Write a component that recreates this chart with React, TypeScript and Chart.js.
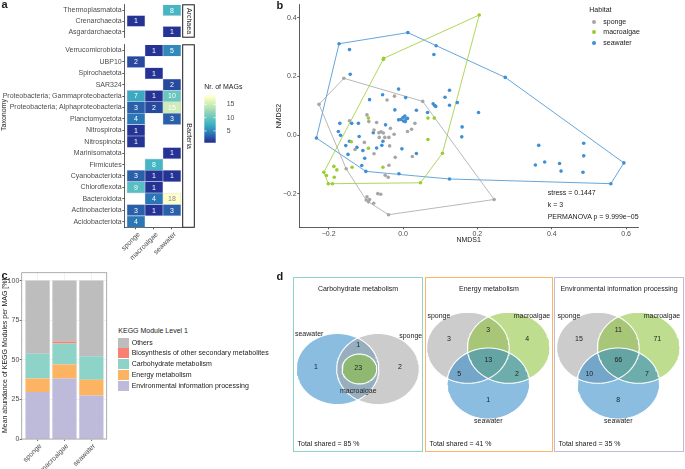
import React, { useEffect, useRef } from 'react';
import { Chart, registerables } from 'chart.js';

Chart.register(...registerables);

const FONT = "'Liberation Sans', Arial, Helvetica, sans-serif";
Chart.defaults.font.family = FONT;
Chart.defaults.font.size = 7;
Chart.defaults.color = '#4d4d4d';

// ---------------- panel a : MAG taxonomy heatmap ----------------
const habitats = ['sponge', 'macroalgae', 'seawater'];
const domains = ['Archaea', 'Bacteria'];
const archaeaTaxa = ['Thermoplasmatota', 'Crenarchaeota', 'Asgardarchaeota'];
const archaeaSponge = [null, 1, null];
const archaeaMacroalgae = [null, null, null];
const archaeaSeawater = [8, null, 1];
const bacteriaTaxa = [
  'Verrucomicrobiota', 'UBP10', 'Spirochaetota', 'SAR324',
  'Proteobacteria; Gammaproteobacteria', 'Proteobacteria; Alphaproteobacteria',
  'Planctomycetota', 'Nitrospirota', 'Nitrospinota', 'Marinisomatota', 'Firmicutes',
  'Cyanobacteriota', 'Chloroflexota', 'Bacteroidota', 'Actinobacteriota', 'Acidobacteriota',
];
const bacteriaSponge = [null, 2, null, null, 7, 3, 4, 1, 1, null, null, 3, 9, null, 3, 4];
const bacteriaMacroalgae = [1, null, 1, null, 1, 2, null, null, null, null, 8, 1, 1, 4, 1, null];
const bacteriaSeawater = [5, null, null, 2, 10, 15, 3, null, null, 1, null, 1, null, 18, 3, null];
const magLegendTicks = [5, 10, 15];
const magLimits = [1, 18];

// ---------------- panel b : NMDS ----------------
const spongeNMDS: number[][] = [
  [-0.159, 0.194], [-0.226, 0.105], [-0.153, -0.115], [-0.039, -0.272], [-0.144, 0.049],
  [-0.097, 0.069], [-0.104, -0.025], [-0.129, -0.049], [-0.092, 0.046], [-0.071, 0.043],
  [-0.078, 0.017], [-0.065, 0.008], [-0.059, 0.011], [-0.053, 0.007], [-0.064, -0.008],
  [-0.049, -0.008], [-0.038, -0.008], [-0.034, 0.023], [-0.024, 0.003], [-0.036, -0.037],
  [-0.078, -0.064], [-0.021, -0.076], [-0.038, -0.103], [-0.048, -0.137], [-0.040, -0.144],
  [-0.097, -0.211], [-0.099, -0.222], [-0.093, -0.228], [-0.090, -0.220], [-0.079, -0.233],
  [-0.068, -0.200], [-0.060, -0.202], [-0.043, 0.120], [-0.023, 0.133], [0.012, 0.012],
  [0.023, 0.020], [0.025, -0.073], [0.053, 0.115], [0.245, -0.220], [0.032, 0.040],
];
const macroalgaeNMDS: number[][] = [
  [-0.213, -0.127], [-0.206, -0.138], [-0.201, -0.166], [-0.190, -0.166], [-0.186, -0.107],
  [-0.178, -0.119], [-0.185, -0.144], [-0.137, -0.110], [-0.139, -0.023], [-0.093, -0.045],
  [-0.093, 0.058], [-0.054, -0.110], [-0.052, 0.262], [-0.053, 0.258], [0.047, -0.163],
  [0.067, 0.058], [0.084, 0.058], [0.067, -0.015], [0.106, -0.062], [0.205, 0.410],
];
const seawaterNMDS: number[][] = [
  [-0.172, 0.312], [-0.144, 0.292], [-0.142, 0.208], [-0.233, -0.010], [-0.170, 0.040],
  [-0.174, 0.012], [-0.168, -0.001], [-0.138, 0.040], [-0.120, 0.040], [-0.154, -0.036],
  [-0.144, -0.021], [-0.148, -0.066], [-0.124, -0.042], [-0.118, -0.005], [-0.108, -0.053],
  [-0.103, -0.079], [-0.111, -0.104], [-0.100, -0.124], [-0.090, 0.121], [-0.080, 0.008],
  [-0.071, -0.044], [-0.057, -0.035], [-0.054, -0.021], [-0.047, 0.035], [-0.055, 0.138],
  [-0.012, 0.157], [-0.022, 0.086], [-0.003, -0.047], [-0.011, -0.132], [0.007, 0.128],
  [0.013, 0.350], [0.089, 0.305], [0.083, 0.275], [0.275, 0.197], [0.594, -0.095],
  [0.559, -0.166], [0.125, -0.150], [-0.012, 0.052], [-0.006, 0.053], [0.000, 0.060],
  [0.005, 0.065], [0.008, 0.055], [0.012, 0.057], [0.001, 0.048], [0.006, 0.046],
  [0.036, 0.085], [0.066, 0.077], [0.081, 0.107], [0.085, 0.101], [0.088, 0.098],
  [0.113, 0.129], [0.125, 0.153], [0.125, 0.102], [0.146, 0.111], [0.203, 0.077],
  [0.159, 0.028], [0.158, -0.006], [0.036, -0.063], [0.365, -0.035], [0.356, -0.102],
  [0.381, -0.092], [0.421, -0.097], [0.425, -0.123], [0.486, -0.028], [0.486, -0.071],
  [0.484, -0.127],
];
const nmdsXTicks = [-0.2, 0, 0.2, 0.4, 0.6];
const nmdsYTicks = [-0.2, 0, 0.2, 0.4];
const nmdsStats = ['stress = 0.1447', 'k = 3', 'PERMANOVA p = 9.999e\u221205'];

// ---------------- panel c : KEGG modules ----------------
const keggLevels = [
  'Others', 'Biosynthesis of other secondary metabolites', 'Carbohydrate metabolism',
  'Energy metabolism', 'Environmental information processing',
];
const keggOthers = [46.2, 38.4, 47.7];
const keggBiosynthesis = [0, 1.3, 0];
const keggCarbohydrate = [15.6, 13.2, 14.9];
const keggEnergy = [8.6, 8.9, 9.9];
const keggEnvironmental = [29.6, 38.2, 27.5];
const keggYTicks = [0, 25, 50, 75, 100];

// ---------------- panel d : Venn diagrams ----------------
const vennTitles = ['Carbohydrate metabolism', 'Energy metabolism', 'Environmental information processing'];
const carbCounts = [1, 1, 23, 2];
const energyCounts = [3, 3, 4, 13, 5, 2, 1];
const envCounts = [15, 11, 71, 66, 10, 7, 8];
const totalShared = [85, 41, 35];

// ---------------- styling / layout ----------------
const TEXT = '#1a1a1a';
const TICK = '#4d4d4d';
const AXIS = '#333333';
const YLGNBU = ['#253494', '#2c7fb8', '#41b6c4', '#7fcdbb', '#c7e9b4', '#ffffcc'];
const habitatColors: Record<string, string> = { sponge: '#a6a6a6', macroalgae: '#9acd32', seawater: '#3f8fd2' };
const keggColors = ['#bdbdbd', '#fb8072', '#8dd3c7', '#fdb462', '#bebada'];
const vennFill: Record<string, string> = {
  sponge: 'rgba(162,162,162,0.55)',
  macroalgae: 'rgba(137,193,51,0.55)',
  seawater: 'rgba(44,135,199,0.55)',
};
const VENN_SX = 41.3;
const VENN_SY = 35.5;
const carbCircles = [
  { set: 'seawater', cx: -0.49, cy: 0, r: 1 },
  { set: 'sponge', cx: 0.49, cy: 0, r: 1 },
  { set: 'macroalgae', cx: 0.04, cy: 0, r: 0.42 },
];
const carbCountPos = [[-1.01, 0.06], [0.01, 0.68], [0.01, 0.04], [1.02, 0.06]];
const carbNamePos = [
  { set: 'seawater', x: -1.52, y: 0.99, align: 'left' },
  { set: 'sponge', x: 1.56, y: 0.93, align: 'right' },
  { set: 'macroalgae', x: 0.013, y: -0.63, align: 'center' },
];
const tripleCircles = [
  { set: 'sponge', cx: -0.494, cy: 0, r: 1 },
  { set: 'macroalgae', cx: 0.494, cy: 0, r: 1 },
  { set: 'seawater', cx: 0, cy: -1.006, r: 1 },
];
const tripleCountPos = [[-0.952, 0.239], [0, 0.5], [0.944, 0.239], [0, -0.344], [-0.702, -0.746], [0.695, -0.746], [0, -1.47]];
const tripleNamePos = [
  { set: 'sponge', x: -1.475, y: 0.904, align: 'left' },
  { set: 'macroalgae', x: 1.5, y: 0.904, align: 'right' },
  { set: 'seawater', x: 0, y: -2.06, align: 'center' },
];
const vennBoxes = [
  { left: 293, top: 277, w: 130, h: 175, ox: 64.75, oy: 92, color: '#8dd3c7' },
  { left: 425, top: 277, w: 128, h: 175, ox: 63.3, oy: 70.8, color: '#fdb462' },
  { left: 554, top: 277, w: 130, h: 175, ox: 64.3, oy: 70.8, color: '#bebada' },
];

// ---------------- helpers ----------------
function hexToRgb(h: string) {
  const n = parseInt(h.slice(1), 16);
  return [(n >> 16) & 255, (n >> 8) & 255, n & 255];
}
function magColor(v: number) {
  const t = Math.max(0, Math.min(1, (v - magLimits[0]) / (magLimits[1] - magLimits[0])));
  const p = t * (YLGNBU.length - 1);
  const i = Math.min(YLGNBU.length - 2, Math.floor(p));
  const f = p - i;
  const a = hexToRgb(YLGNBU[i]);
  const b = hexToRgb(YLGNBU[i + 1]);
  const c = a.map((x, k) => Math.round(x + (b[k] - x) * f));
  return `rgb(${c[0]},${c[1]},${c[2]})`;
}
function convexHull(pts: number[][]) {
  const p = pts.slice().sort((a, b) => a[0] - b[0] || a[1] - b[1]);
  const cross = (o: number[], a: number[], b: number[]) => (a[0] - o[0]) * (b[1] - o[1]) - (a[1] - o[1]) * (b[0] - o[0]);
  const lower: number[][] = [];
  for (const q of p) {
    while (lower.length >= 2 && cross(lower[lower.length - 2], lower[lower.length - 1], q) <= 0) lower.pop();
    lower.push(q);
  }
  const upper: number[][] = [];
  for (let i = p.length - 1; i >= 0; i--) {
    const q = p[i];
    while (upper.length >= 2 && cross(upper[upper.length - 2], upper[upper.length - 1], q) <= 0) upper.pop();
    upper.push(q);
  }
  upper.pop();
  lower.pop();
  const h = lower.concat(upper);
  h.push(h[0]);
  return h.map(([x, y]) => ({ x, y }));
}
function circlePath(c: { cx: number; cy: number; r: number }) {
  const pts = [];
  for (let k = 0; k <= 120; k++) {
    const t = (k / 120) * Math.PI * 2;
    pts.push({ x: c.cx + c.r * Math.cos(t), y: c.cy + c.r * Math.sin(t) });
  }
  return pts;
}
const font7 = () => ({ family: FONT, size: 7 });
const fixedTicks = (vals: number[]) => (s: any) => {
  s.ticks = vals.map((v) => ({ value: v }));
};

// ---------------- plugins ----------------
const cellLabelPlugin = {
  id: 'cellLabels',
  afterDatasetsDraw(chart: any) {
    const ctx = chart.ctx;
    ctx.save();
    ctx.font = `7px ${FONT}`;
    ctx.textAlign = 'center';
    ctx.textBaseline = 'middle';
    chart.data.datasets.forEach((ds: any, di: number) => {
      const meta = chart.getDatasetMeta(di);
      meta.data.forEach((el: any, i: number) => {
        const v = ds.mags[i];
        if (v == null) return;
        ctx.fillStyle = v >= 18 ? '#8a8a8a' : '#ffffff';
        ctx.fillText(String(v), (el.x + el.base) / 2, el.y + 0.4);
      });
    });
    ctx.restore();
  },
};
const stripPlugin = (label: string) => ({
  id: 'strip',
  afterDraw(chart: any) {
    const { ctx, chartArea: a } = chart;
    const w = 11.6;
    ctx.save();
    ctx.fillStyle = '#ffffff';
    ctx.fillRect(a.right, a.top, w, a.bottom - a.top);
    ctx.strokeStyle = TEXT;
    ctx.lineWidth = 1;
    ctx.strokeRect(a.right, a.top, w, a.bottom - a.top);
    ctx.translate(a.right + w / 2, (a.top + a.bottom) / 2);
    ctx.rotate(Math.PI / 2);
    ctx.font = `7px ${FONT}`;
    ctx.fillStyle = TEXT;
    ctx.textAlign = 'center';
    ctx.textBaseline = 'middle';
    ctx.fillText(label, 0, 0);
    ctx.restore();
  },
});
const colorbarTickPlugin = {
  id: 'cbTicks',
  afterDatasetsDraw(chart: any) {
    const { ctx, chartArea: a, scales } = chart;
    ctx.save();
    ctx.strokeStyle = '#ffffff';
    ctx.lineWidth = 0.7;
    magLegendTicks.forEach((v) => {
      const y = scales.y.getPixelForValue(v);
      ctx.beginPath();
      ctx.moveTo(a.left, y);
      ctx.lineTo(a.left + 2.2, y);
      ctx.moveTo(a.right - 2.2, y);
      ctx.lineTo(a.right, y);
      ctx.stroke();
    });
    ctx.restore();
  },
};
const panelBorderPlugin = {
  id: 'panelBorder',
  afterDatasetsDraw(chart: any) {
    const { ctx, chartArea: a } = chart;
    ctx.save();
    ctx.strokeStyle = '#9a9a9a';
    ctx.lineWidth = 0.8;
    ctx.strokeRect(a.left, a.top, a.right - a.left, a.bottom - a.top);
    ctx.restore();
  },
};
function vennLabelPlugin(counts: number[], countPos: number[][], names: { set: string; x: number; y: number; align: string }[]) {
  return {
    id: 'vennLabels',
    afterDatasetsDraw(chart: any) {
      const { ctx, scales } = chart;
      ctx.save();
      ctx.font = `7px ${FONT}`;
      ctx.fillStyle = '#222222';
      ctx.textBaseline = 'middle';
      ctx.textAlign = 'center';
      counts.forEach((n, i) => {
        ctx.fillText(String(n), scales.x.getPixelForValue(countPos[i][0]), scales.y.getPixelForValue(countPos[i][1]));
      });
      names.forEach((nm) => {
        ctx.textAlign = nm.align;
        ctx.fillText(nm.set, scales.x.getPixelForValue(nm.x), scales.y.getPixelForValue(nm.y));
      });
      ctx.restore();
    },
  };
}

// ---------------- chart configs ----------------
function heatmapConfig(taxa: string[], series: (number | null)[][], domain: string, showX: boolean, padTop: number, padBottom: number, xHeight: number) {
  return {
    type: 'bar',
    data: {
      labels: taxa,
      datasets: series.map((vals, h) => ({
        label: habitats[h],
        data: vals.map((v) => (v == null ? null : [h, h + 1])),
        mags: vals,
        backgroundColor: vals.map((v) => (v == null ? 'rgba(0,0,0,0)' : magColor(v))),
        borderColor: '#cdd1ec',
        borderWidth: 0.6,
        borderSkipped: false,
        grouped: false,
        categoryPercentage: 1,
        barPercentage: 1,
      })),
    },
    options: {
      indexAxis: 'y',
      responsive: false,
      animation: false,
      events: [],
      layout: { padding: { top: padTop, bottom: padBottom, left: 0, right: 17.3 } },
      plugins: { legend: { display: false }, tooltip: { enabled: false } },
      scales: {
        x: {
          type: 'linear', min: -0.15, max: 3.1, display: showX,
          afterBuildTicks: fixedTicks(habitats.map((_, i) => i + 0.5)),
          ticks: {
            callback: (v: number) => habitats[Math.floor(v)], autoSkip: false,
            minRotation: 45, maxRotation: 45, padding: 1, labelOffset: 3, color: TICK, font: font7(),
          },
          grid: { display: true, drawOnChartArea: false, tickLength: 2, color: AXIS, lineWidth: 0.8 },
          border: { display: true, color: AXIS, width: 0.8 },
          afterFit: (s: any) => { s.height = xHeight; },
        },
        y: {
          type: 'category', offset: true,
          ticks: { autoSkip: false, padding: 0.6, color: TICK, font: font7() },
          grid: { display: true, offset: false, drawOnChartArea: false, tickLength: 2, color: AXIS, lineWidth: 0.8 },
          border: { display: true, color: AXIS, width: 0.8 },
          afterFit: (s: any) => { s.width = 124.3; },
        },
      },
    },
    plugins: [cellLabelPlugin, stripPlugin(domain)],
  };
}

function colorbarConfig() {
  return {
    type: 'bar',
    data: {
      labels: ['Nr. of MAGs'],
      datasets: [{
        data: [[magLimits[0] - 0.5, magLimits[1] + 0.5]],
        backgroundColor: (c: any) => {
          const chart = c.chart;
          if (!chart.chartArea) return YLGNBU[0];
          const ys = chart.scales.y;
          const g = chart.ctx.createLinearGradient(0, ys.getPixelForValue(magLimits[0]), 0, ys.getPixelForValue(magLimits[1]));
          YLGNBU.forEach((col, i) => g.addColorStop(i / (YLGNBU.length - 1), col));
          return g;
        },
        borderWidth: 0,
        categoryPercentage: 1,
        barPercentage: 1,
      }],
    },
    options: {
      responsive: false,
      animation: false,
      events: [],
      layout: { padding: { left: 4.3, top: 5.3, bottom: 3.3, right: 0 } },
      plugins: { legend: { display: false }, tooltip: { enabled: false } },
      scales: {
        x: { display: false },
        y: {
          position: 'right', min: magLimits[0] - 0.5, max: magLimits[1] + 0.5,
          afterBuildTicks: fixedTicks(magLegendTicks),
          ticks: { padding: 3, color: TICK, font: font7() },
          grid: { display: false },
          border: { display: false },
          afterFit: (s: any) => { s.width = 24.3; },
        },
      },
    },
    plugins: [colorbarTickPlugin],
  };
}

function nmdsConfig() {
  const groups = [spongeNMDS, macroalgaeNMDS, seawaterNMDS];
  const fmt = (v: number) => v.toFixed(1).replace('-', '\u2212');
  return {
    type: 'scatter',
    data: {
      datasets: [
        ...habitats.map((h, i) => ({
          label: h,
          data: groups[i].map(([x, y]) => ({ x, y })),
          backgroundColor: habitatColors[h],
          borderWidth: 0,
          pointRadius: 1.8,
          order: 0,
        })),
        ...habitats.map((h, i) => ({
          type: 'line',
          label: `${h} hull`,
          data: convexHull(groups[i]),
          borderColor: habitatColors[h],
          borderWidth: 0.8,
          pointRadius: 0,
          fill: false,
          tension: 0,
          order: 1,
        })),
      ],
    },
    options: {
      responsive: false,
      animation: false,
      events: [],
      layout: { padding: { top: 3, right: 47, left: 0, bottom: 0 } },
      plugins: { legend: { display: false }, tooltip: { enabled: false } },
      scales: {
        x: {
          type: 'linear', min: -0.279, max: 0.632,
          afterBuildTicks: fixedTicks(nmdsXTicks),
          ticks: { callback: fmt, padding: 0.5, maxRotation: 0, color: TICK, font: font7() },
          grid: { drawOnChartArea: false, tickLength: 2, color: AXIS, lineWidth: 0.8 },
          border: { display: true, color: AXIS, width: 0.8 },
          title: { display: true, text: 'NMDS1', color: TEXT, font: font7(), padding: { top: 0, bottom: 5.8 } },
          afterFit: (s: any) => { s.height = 22.7; },
        },
        y: {
          type: 'linear', min: -0.315, max: 0.445,
          afterBuildTicks: fixedTicks(nmdsYTicks),
          ticks: { callback: fmt, padding: 0.6, color: TICK, font: font7() },
          grid: { drawOnChartArea: false, tickLength: 2, color: AXIS, lineWidth: 0.8 },
          border: { display: true, color: AXIS, width: 0.8 },
          title: { display: true, text: 'NMDS2', color: TEXT, font: font7(), padding: { top: 24.8, bottom: 0 } },
          afterFit: (s: any) => { s.width = 49.3; },
        },
      },
    },
  };
}

function keggConfig() {
  const stack = [
    { name: keggLevels[4], vals: keggEnvironmental, color: keggColors[4] },
    { name: keggLevels[3], vals: keggEnergy, color: keggColors[3] },
    { name: keggLevels[2], vals: keggCarbohydrate, color: keggColors[2] },
    { name: keggLevels[1], vals: keggBiosynthesis, color: keggColors[1] },
    { name: keggLevels[0], vals: keggOthers, color: keggColors[0] },
  ];
  const minor = keggYTicks.slice(1).map((v, i) => (v + keggYTicks[i]) / 2);
  const allTicks = keggYTicks.concat(minor).sort((a, b) => a - b);
  const isMajor = (v: number) => keggYTicks.indexOf(v) >= 0;
  return {
    type: 'bar',
    data: {
      datasets: stack.map((s) => ({
        label: s.name,
        data: s.vals.map((v, i) => ({ x: i, y: v })),
        backgroundColor: s.color,
        borderWidth: 0,
        categoryPercentage: 0.9,
        barPercentage: 1,
      })),
    },
    options: {
      responsive: false,
      animation: false,
      events: [],
      layout: { padding: { top: 7.7, right: 8.3, left: 0, bottom: 0 } },
      plugins: { legend: { display: false }, tooltip: { enabled: false } },
      scales: {
        x: {
          type: 'linear', stacked: true, min: -0.59, max: 2.57, offset: false,
          afterBuildTicks: fixedTicks(habitats.map((_, i) => i)),
          ticks: {
            callback: (v: number) => habitats[v], autoSkip: false, minRotation: 45, maxRotation: 45,
            padding: 1, labelOffset: 3, color: TICK, font: font7(),
          },
          grid: { offset: false, color: '#ebebeb', lineWidth: 0.7, tickColor: AXIS, tickLength: 2 },
          border: { display: false },
          afterFit: (s: any) => { s.height = 30; },
        },
        y: {
          type: 'linear', stacked: true, min: 0, max: 105,
          afterBuildTicks: fixedTicks(allTicks),
          ticks: { callback: (v: number) => (isMajor(v) ? String(v) : ''), padding: 0.4, color: TICK, font: font7() },
          grid: {
            color: '#ebebeb',
            lineWidth: (c: any) => (c.tick && isMajor(c.tick.value) ? 0.7 : 0.35),
            tickColor: (c: any) => (c.tick && isMajor(c.tick.value) ? AXIS : 'rgba(0,0,0,0)'),
            tickLength: 2,
          },
          border: { display: false },
          title: { display: true, text: 'Mean abundance of KEGG Modules per MAG [%]', color: TEXT, font: font7(), padding: { top: 0.5, bottom: 0 } },
          afterFit: (s: any) => { s.width = 21.7; },
        },
      },
    },
    plugins: [panelBorderPlugin],
  };
}

function vennConfig(
  circles: { set: string; cx: number; cy: number; r: number }[],
  counts: number[],
  countPos: number[][],
  names: { set: string; x: number; y: number; align: string }[],
  box: { w: number; h: number; ox: number; oy: number },
) {
  return {
    type: 'line',
    data: {
      datasets: circles.map((c, k) => ({
        label: c.set,
        data: circlePath(c),
        borderColor: '#ffffff',
        borderWidth: 1.1,
        backgroundColor: vennFill[c.set],
        fill: 'shape',
        pointRadius: 0,
        tension: 0,
        order: circles.length - k,
      })),
    },
    options: {
      responsive: false,
      animation: false,
      events: [],
      layout: { padding: 0 },
      plugins: { legend: { display: false }, tooltip: { enabled: false }, filler: { drawTime: 'beforeDatasetsDraw' } },
      scales: {
        x: { type: 'linear', display: false, min: -box.ox / VENN_SX, max: (box.w - box.ox) / VENN_SX },
        y: { type: 'linear', display: false, min: -(box.h - box.oy) / VENN_SY, max: box.oy / VENN_SY },
      },
    },
    plugins: [vennLabelPlugin(counts, countPos, names)],
  };
}

// ---------------- components ----------------
function ChartBox({ left, top, width, height, make }: { left: number; top: number; width: number; height: number; make: () => any }) {
  const ref = useRef<HTMLCanvasElement | null>(null);
  useEffect(() => {
    if (!ref.current) return;
    const chart = new Chart(ref.current, make());
    return () => chart.destroy();
  }, []);
  return <canvas ref={ref} width={width} height={height} style={{ position: 'absolute', left, top, width, height }} />;
}

function Txt({ x, y, children, size = 7, align = 'left', bold = false, rotate = 0, color = TEXT }: any) {
  const tx = align === 'left' ? '0%' : align === 'center' ? '-50%' : '-100%';
  return (
    <div
      style={{
        position: 'absolute', left: x, top: y, whiteSpace: 'nowrap', fontSize: size, lineHeight: 1.15,
        fontWeight: bold ? 'bold' : 'normal', color,
        transform: `translate(${tx}, -50%)${rotate ? ` rotate(${rotate}deg)` : ''}`,
      }}
    >
      {children}
    </div>
  );
}

export default function App() {
  useEffect(() => {
    document.body.style.margin = '0';
  }, []);
  const vennSpecs = [
    { circles: carbCircles, counts: carbCounts, pos: carbCountPos, names: carbNamePos },
    { circles: tripleCircles, counts: energyCounts, pos: tripleCountPos, names: tripleNamePos },
    { circles: tripleCircles, counts: envCounts, pos: tripleCountPos, names: tripleNamePos },
  ];
  return (
    <div style={{ position: 'fixed', left: 0, top: 0, width: 685, height: 469, overflow: 'hidden', background: '#ffffff', fontFamily: FONT }}>
      {/* panel a */}
      <ChartBox left={0} top={0} width={200} height={42}
        make={() => heatmapConfig(archaeaTaxa, [archaeaSponge, archaeaMacroalgae, archaeaSeawater], domains[0], false, 3.3, 2.7, 0)} />
      <ChartBox left={0} top={40} width={200} height={232}
        make={() => heatmapConfig(bacteriaTaxa, [bacteriaSponge, bacteriaMacroalgae, bacteriaSeawater], domains[1], true, 2.7, 0, 44.7)} />
      <ChartBox left={200} top={88} width={40} height={62} make={colorbarConfig} />
      <Txt x={1.5} y={4.3} size={11} bold>a</Txt>
      <Txt x={4.3} y={115} rotate={-90} align="center">Taxonomy</Txt>
      <Txt x={204.3} y={87}>Nr. of MAGs</Txt>

      {/* panel b */}
      <ChartBox left={250} top={0} width={435} height={250} make={nmdsConfig} />
      <Txt x={276.5} y={5} size={11} bold>b</Txt>
      <Txt x={589.3} y={10}>Habitat</Txt>
      {habitats.map((h, i) => (
        <React.Fragment key={h}>
          <div style={{ position: 'absolute', left: 594.3 - 1.9, top: 21.7 + i * 10.5 - 1.9, width: 3.8, height: 3.8, borderRadius: '50%', background: habitatColors[h] }} />
          <Txt x={603.3} y={21.7 + i * 10.5}>{h}</Txt>
        </React.Fragment>
      ))}
      {nmdsStats.map((s, i) => (
        <Txt key={s} x={547.7} y={193.3 + i * 11.7}>{s}</Txt>
      ))}

      {/* panel c */}
      <ChartBox left={0} top={265} width={115} height={204} make={keggConfig} />
      <Txt x={1.5} y={274.5} size={11} bold>c</Txt>
      <Txt x={118.3} y={331}>KEGG Module Level 1</Txt>
      {keggLevels.map((lv, i) => (
        <React.Fragment key={lv}>
          <div style={{ position: 'absolute', left: 118.3, top: 337.7 + i * 10.75, width: 10.3, height: 10, background: keggColors[i] }} />
          <Txt x={131.7} y={342.7 + i * 10.75}>{lv}</Txt>
        </React.Fragment>
      ))}

      {/* panel d */}
      <Txt x={276.5} y={275.5} size={11} bold>d</Txt>
      {vennBoxes.map((b, i) => (
        <React.Fragment key={i}>
          <ChartBox left={b.left} top={b.top} width={b.w} height={b.h}
            make={() => vennConfig(vennSpecs[i].circles, vennSpecs[i].counts, vennSpecs[i].pos, vennSpecs[i].names, b)} />
          <div style={{ position: 'absolute', left: b.left, top: b.top, width: b.w, height: b.h, boxSizing: 'border-box', border: `1.3px solid ${b.color}`, pointerEvents: 'none' }} />
          <Txt x={b.left + b.w / 2} y={b.top + 12} align="center">{vennTitles[i]}</Txt>
          <Txt x={b.left + 4.5} y={b.top + 166.7}>{`Total shared = ${totalShared[i]} %`}</Txt>
        </React.Fragment>
      ))}
    </div>
  );
}
